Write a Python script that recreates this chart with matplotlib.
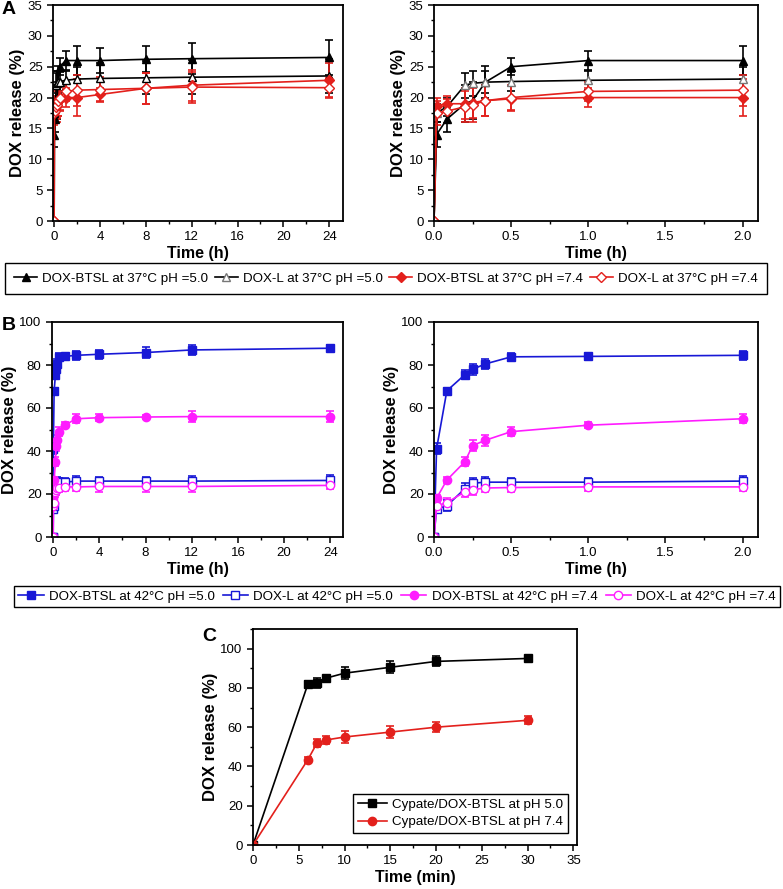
import numpy as np
import matplotlib
matplotlib.use('Agg')
import matplotlib.pyplot as plt
from matplotlib.ticker import MultipleLocator

plt.rcParams['font.family'] = ['Liberation Sans', 'DejaVu Sans']

# time points (h)
t = [0, 0.0167, 0.0833, 0.2, 0.25, 0.333, 0.5, 1, 2, 4, 8, 12, 24]

# panel A, 37 C
btsl37_50 = [0, 14, 16.5, 19, 19.5, 22.5, 25, 26, 26, 26, 26.2, 26.3, 26.5]
btsl37_50_err = [0, 2, 2, 3, 3, 2.6, 1.4, 1.5, 2.4, 2, 2.1, 2.5, 2.8]
l37_50 = [0, 17.5, 18.5, 22, 22.3, 22.5, 22.6, 22.8, 23, 23.1, 23.2, 23.3, 23.5]
l37_50_err = [0, 1.5, 1.5, 2, 2, 1.8, 1.5, 1.5, 2, 2.5, 2.7, 2.8, 2.8]
btsl37_74 = [0, 18.7, 19, 19, 19.2, 19.5, 19.8, 20, 20, 20.5, 21.5, 22, 22.8]
btsl37_74_err = [0, 1.2, 1.3, 2.5, 2.5, 2.5, 2, 1.5, 3, 1, 2.5, 2.5, 2.8]
l37_74 = [0, 17.5, 17.8, 18.5, 18.8, 19.5, 20, 21, 21.2, 21.3, 21.5, 21.7, 21.6]
l37_74_err = [0, 2, 2, 2.5, 2.8, 2.5, 2, 1.5, 2.5, 2, 2.5, 2.5, 1.5]

# panel B, 42 C
btsl42_50 = [0, 41, 68, 75.5, 78, 80.5, 83.8, 84, 84.5, 85, 85.8, 87, 87.8]
btsl42_50_err = [0, 2.5, 1.5, 2, 2.5, 2.5, 2, 1.5, 2, 2, 2.5, 2.5, 1.5]
l42_50 = [0, 13, 14.5, 22.5, 25, 25.5, 25.5, 25.5, 26, 26, 26, 26, 26.3]
l42_50_err = [0, 2, 2.5, 2.5, 2.5, 2.5, 2, 2, 2.5, 2, 2, 2.5, 2.5]
btsl42_74 = [0, 18, 26.5, 35, 42.5, 45, 49, 52, 55, 55.5, 55.8, 56, 56]
btsl42_74_err = [0, 1.5, 1.5, 2, 2.5, 2.5, 2, 1.5, 2, 1.5, 1, 2.5, 2.5]
l42_74 = [0, 14.5, 16, 21, 22, 22.8, 23, 23.3, 23.3, 23.5, 23.5, 23.5, 24]
l42_74_err = [0, 2, 2, 2.5, 2.5, 2, 2, 2, 2, 2.5, 2.5, 2.5, 1.5]

# panel C, minutes
tc = [0, 6, 7, 8, 10, 15, 20, 30]
cyp_50 = [0, 82, 82.5, 85, 87.5, 90.5, 93.5, 95]
cyp_50_err = [0, 1.5, 2.5, 1, 3, 3, 2.5, 1.5]
cyp_74 = [0, 43.5, 52, 53.5, 55, 57.5, 60, 63.5]
cyp_74_err = [0, 1.5, 2, 2, 3, 3, 2.5, 2]

RED = '#e3201c'
BLUE = '#1818d6'
MAG = '#ff1cff'

W, H = 783, 889
fig = plt.figure(figsize=(W / 100, H / 100), dpi=100)


def make_ax(x0, x1, y0, y1):
    return fig.add_axes([x0 / W, 1 - y1 / H, (x1 - x0) / W, (y1 - y0) / H])


def series(ax, x, y, e, color, marker, filled, ms=6):
    face = color if filled else 'white'
    c = ax.errorbar(x, y, yerr=e, color=color, marker=marker, ms=ms, mfc=face,
                    mec=color, lw=1.2, capsize=3, elinewidth=1.2, capthick=1.2)
    return c[0]


def style(ax, xmaj, xmin, ymaj, ymin, xl):
    for s in ax.spines.values():
        s.set_linewidth(1.3)
    ax.xaxis.set_major_locator(MultipleLocator(xmaj))
    ax.xaxis.set_minor_locator(MultipleLocator(xmin))
    ax.yaxis.set_major_locator(MultipleLocator(ymaj))
    ax.yaxis.set_minor_locator(MultipleLocator(ymin))
    ax.tick_params(which='major', direction='out', length=4, width=1.1, labelsize=9.5)
    ax.tick_params(which='minor', direction='out', length=2.5, width=1)
    ax.set_xlabel(xl, fontsize=11.5, fontweight='bold', labelpad=2)
    ax.set_ylabel('DOX release (%)', fontsize=12, fontweight='bold', labelpad=2)


def tfmt(ax):
    ax.xaxis.set_major_formatter(matplotlib.ticker.FormatStrFormatter('%.1f'))


t = np.array(t)
short = t <= 2

# ---------- A ----------
axes_a = [make_ax(53, 343, 5, 221), make_ax(434, 758, 5, 221)]
hA = []
for i, ax in enumerate(axes_a):
    m = slice(None) if i == 0 else short
    h1 = series(ax, t[m], np.array(btsl37_50)[m], np.array(btsl37_50_err)[m], 'black', '^', True)
    h2 = series(ax, t[m], np.array(l37_50)[m], np.array(l37_50_err)[m], 'black', '^', False)
    h3 = series(ax, t[m], np.array(btsl37_74)[m], np.array(btsl37_74_err)[m], RED, 'D', True, ms=5)
    h4 = series(ax, t[m], np.array(l37_74)[m], np.array(l37_74_err)[m], RED, 'D', False, ms=5)
    hA = [h1, h2, h3, h4]
    ax.set_ylim(0, 35)
    if i == 0:
        ax.set_xlim(-0.1, 25.2)
        style(ax, 4, 2, 5, 2.5, 'Time (h)')
    else:
        ax.set_xlim(0, 2.1)
        style(ax, 0.5, 0.25, 5, 2.5, 'Time (h)')
        tfmt(ax)
        h2.set_markeredgecolor('#777777')

fig.legend(hA, ['DOX-BTSL at 37\u00b0C pH =5.0', 'DOX-L at 37\u00b0C pH =5.0',
                'DOX-BTSL at 37\u00b0C pH =7.4', 'DOX-L at 37\u00b0C pH =7.4'],
           loc='center', bbox_to_anchor=(386 / W, 1 - 279 / H), ncol=4, fontsize=9.6,
           frameon=True, fancybox=False, edgecolor='black', framealpha=1,
           handlelength=1.7, handletextpad=0.4, columnspacing=0.5, borderpad=0.7)

# ---------- B ----------
axes_b = [make_ax(52, 343, 322, 537), make_ax(434, 758, 322, 537)]
hB = []
for i, ax in enumerate(axes_b):
    m = slice(None) if i == 0 else short
    h1 = series(ax, t[m], np.array(btsl42_50)[m], np.array(btsl42_50_err)[m], BLUE, 's', True, ms=5.5)
    h2 = series(ax, t[m], np.array(l42_50)[m], np.array(l42_50_err)[m], BLUE, 's', False, ms=5.5)
    h3 = series(ax, t[m], np.array(btsl42_74)[m], np.array(btsl42_74_err)[m], MAG, 'o', True)
    h4 = series(ax, t[m], np.array(l42_74)[m], np.array(l42_74_err)[m], MAG, 'o', False)
    hB = [h1, h2, h3, h4]
    ax.set_ylim(0, 100)
    if i == 0:
        ax.set_xlim(-0.1, 25.1)
        style(ax, 4, 2, 20, 10, 'Time (h)')
    else:
        ax.set_xlim(0, 2.1)
        style(ax, 0.5, 0.25, 20, 10, 'Time (h)')
        tfmt(ax)

fig.legend(hB, ['DOX-BTSL at 42\u00b0C pH =5.0', 'DOX-L at 42\u00b0C pH =5.0',
                'DOX-BTSL at 42\u00b0C pH =7.4', 'DOX-L at 42\u00b0C pH =7.4'],
           loc='center', bbox_to_anchor=(397 / W, 1 - 596.5 / H), ncol=4, fontsize=9.6,
           frameon=True, fancybox=False, edgecolor='black', framealpha=1,
           handlelength=1.9, handletextpad=0.4, columnspacing=0.6, borderpad=0.3)

# ---------- C ----------
axc = make_ax(253, 577, 629, 845)
c1 = series(axc, tc, cyp_50, cyp_50_err, 'black', 's', True, ms=5.5)
c2 = series(axc, tc, cyp_74, cyp_74_err, RED, 'o', True)
axc.set_xlim(0, 35.4)
axc.set_ylim(0, 110)
style(axc, 5, 2.5, 20, 10, 'Time (min)')
axc.legend([c1, c2], ['Cypate/DOX-BTSL at pH 5.0', 'Cypate/DOX-BTSL at pH 7.4'],
           loc='lower right', bbox_to_anchor=(0.972, 0.056), borderaxespad=0,
           fontsize=9.6, frameon=True, fancybox=False, edgecolor='black', framealpha=1,
           handlelength=2.2, handletextpad=0.4, borderpad=0.35, labelspacing=0.4)

# panel letters
for lab, x, y in [('A', 2, 1), ('B', 2, 317), ('C', 202, 628)]:
    fig.text(x / W, 1 - y / H, lab, fontsize=14, fontweight='bold', va='top', ha='left')

fig.savefig('out.png', dpi=100)
